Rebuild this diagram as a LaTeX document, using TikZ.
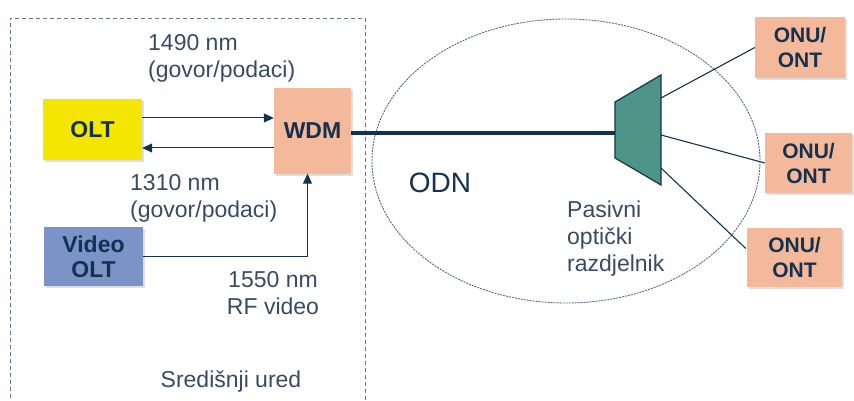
\documentclass[tikz,border=0pt]{standalone}
\usepackage{fontspec}
\setmainfont{Liberation Sans}
\usetikzlibrary{arrows.meta,shadows,calc}
\definecolor{navy}{RGB}{20,50,80}
\definecolor{labc}{RGB}{55,75,100}
\definecolor{dashc}{RGB}{95,120,145}
\definecolor{oltc}{RGB}{245,230,0}
\definecolor{vidc}{RGB}{123,147,198}
\definecolor{salm}{RGB}{244,184,154}
\definecolor{teal2}{RGB}{78,148,136}
\begin{document}
\begin{tikzpicture}[x=1pt,y=-1pt,
  box/.style={rectangle,inner sep=0pt,align=center,text=navy,
    font=\fontsize{23}{25}\selectfont\bfseries,
    drop shadow={opacity=0.25,shadow xshift=2pt,shadow yshift=-2pt}},
  onu/.style={box,fill=salm,font=\fontsize{21}{25}\selectfont\bfseries},
  lab/.style={text=labc,align=center,inner sep=0pt,font=\fontsize{23}{27}\selectfont},
  arr/.style={draw=navy,line width=1pt,-{Triangle[length=10pt,width=9pt]}},
  thin/.style={draw=navy,line width=1.1pt}]
\useasboundingbox (0,0) rectangle (854,401);
% central office frame
\draw[dashc,line width=0.8pt,dash pattern=on 4pt off 3pt] (10,405) -- (10,18) -- (365,18) -- (365,405);
% ODN ellipse
\draw[dashc!80!navy,line width=0.9pt,dash pattern=on 2pt off 1pt] (566,161) ellipse [x radius=194, y radius=142];
% boxes
\node[box,fill=oltc,minimum width=99pt,minimum height=61pt] (olt) at (92.5,129.5) {OLT};
\node[box,fill=vidc,minimum width=99pt,minimum height=59pt] (volt) at (93.5,256.5) {Video\\OLT};
\node[box,fill=salm,minimum width=77pt,minimum height=85pt] (wdm) at (312.5,131) {WDM};
\node[onu,minimum width=90pt,minimum height=61pt] (onu1) at (800,47.5) {ONU/\\ONT};
\node[onu,minimum width=87pt,minimum height=60pt] (onu2) at (808.5,163) {ONU/\\ONT};
\node[onu,minimum width=95pt,minimum height=59pt] (onu3) at (794.5,257.5) {ONU/\\ONT};
% splitter
\coordinate (sl) at (615,133);
\coordinate (s1) at (661,98);
\coordinate (s2) at (661,135);
\coordinate (s3) at (661,168);
\draw[navy,line width=1.2pt,fill=teal2] (615,102) -- (661,75) -- (661,185) -- (615,158) -- cycle;
% connectors
\draw[arr] ([yshift=11.5pt]olt.east) -- ([yshift=11.5pt]olt.east -| wdm.west);
\draw[arr] ([yshift=-18.5pt]olt.east -| wdm.west) -- ([yshift=-18.5pt]olt.east);
\draw[arr] (volt.east) -| ([xshift=-5pt]wdm.south);
\draw[navy,line width=4pt] (wdm.east |- sl) -- (sl);
\draw[thin] (s1) -- (onu1.west);
\draw[thin] (s2) -- (onu2.west);
\draw[thin] (s3) -- ([xshift=-1pt,yshift=9pt]onu3.west);
% labels
\node[lab,align=left,anchor=west] (l1490) at (148,58) {1490 nm\\(govor/podaci)};
\node[lab,align=left,anchor=west] (l1310) at (130,198) {1310 nm\\(govor/podaci)};
\node[lab] (l1550) at (273,293) {1550 nm\\RF video};
\node[lab] (ured) at (231,382) {Središnji ured};
\node[text=navy,inner sep=0pt,font=\fontsize{28}{30}\selectfont] (odn) at (440,183) {ODN};
\node[lab,align=left,anchor=west] (pas) at (567,239) {Pasivni\\optički\\razdjelnik};
\end{tikzpicture}
\end{document}
